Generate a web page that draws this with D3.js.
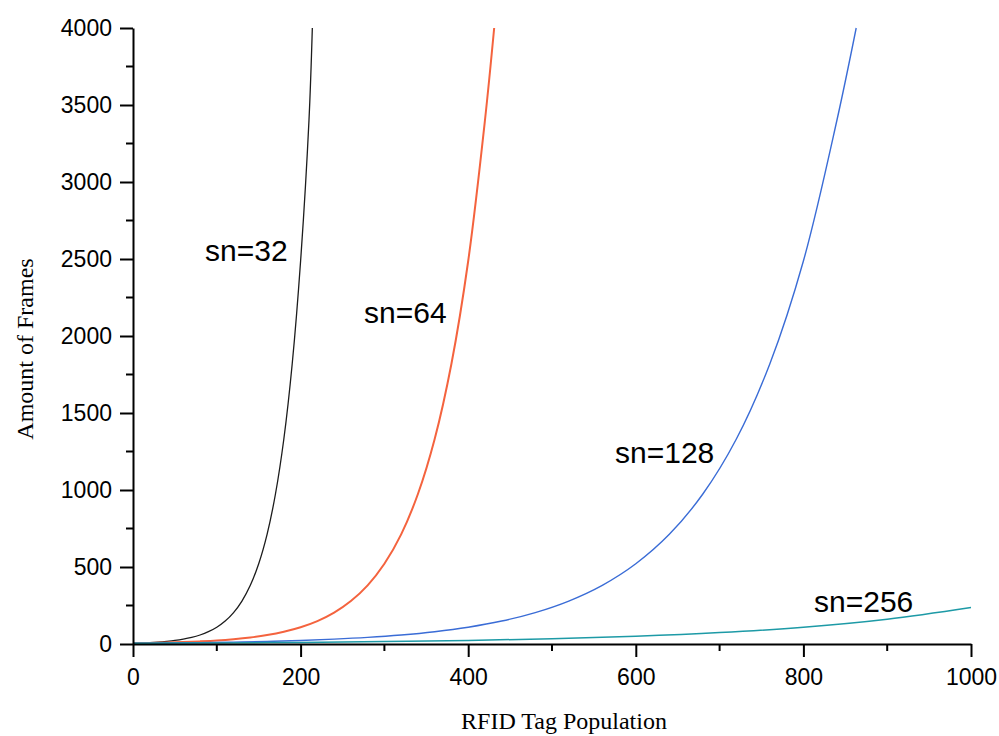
<!DOCTYPE html>
<html>
<head>
<meta charset="utf-8">
<script src="https://cdn.jsdelivr.net/npm/d3@7/dist/d3.min.js"></script>
<style>
  html, body { margin: 0; padding: 0; background: #fff; }
  svg { display: block; }
</style>
</head>
<body>
<script>
// ---- data ----
const sn32X  = [0, 10, 20, 30, 40, 50, 60, 70, 80, 90, 100, 110, 120, 130, 140, 150, 160, 170, 180, 190, 200, 210, 214];
const sn32Y  = [5, 6.6, 9, 12.3, 17, 22.9, 31.4, 42.8, 58.5, 79.9, 109, 149, 204, 279, 381, 521, 712, 974, 1331, 1820, 2487, 3401, 4000];
const sn64X  = [0, 20, 40, 60, 80, 100, 120, 140, 160, 180, 200, 220, 240, 260, 280, 300, 320, 340, 360, 380, 400, 420, 431];
const sn64Y  = [5, 6.6, 9, 12.3, 17, 22.9, 31.4, 42.8, 58.5, 79.9, 109, 149, 204, 279, 381, 521, 712, 974, 1331, 1820, 2487, 3401, 4000];
const sn128X = [0, 40, 80, 120, 160, 200, 240, 280, 320, 360, 400, 440, 480, 520, 560, 600, 640, 680, 720, 760, 800, 840, 863];
const sn128Y = [5, 6.6, 9, 12.3, 17, 22.9, 31.4, 42.8, 58.5, 79.9, 109, 149, 204, 279, 381, 521, 712, 974, 1331, 1820, 2487, 3401, 4000];
const sn256X = [0, 100, 200, 300, 400, 500, 600, 700, 800, 900, 1000];
const sn256Y = [5, 7, 10.5, 15.5, 23, 34, 50, 74, 109, 161, 237];
const seriesNames = ["sn=32", "sn=64", "sn=128", "sn=256"];
const xTicks = [0, 200, 400, 600, 800, 1000];
const yTicks = [0, 500, 1000, 1500, 2000, 2500, 3000, 3500, 4000];
const xTitle = "RFID Tag Population";
const yTitle = "Amount of Frames";

const W = 999, H = 736;
const svg = d3.select("body").append("svg").attr("width", W).attr("height", H);

const x = d3.scaleLinear().domain([0, 1000]).range([133, 971]);
const y = d3.scaleLinear().domain([0, 4000]).range([644, 28]);

const series = [
  {name: seriesNames[0], xs: sn32X,  ys: sn32Y,  color: "#1c1c1c", w: 1.3, lx: 205, ly: 261},
  {name: seriesNames[1], xs: sn64X,  ys: sn64Y,  color: "#f4633e", w: 2,   lx: 364, ly: 323},
  {name: seriesNames[2], xs: sn128X, ys: sn128Y, color: "#3a6cd6", w: 1.4, lx: 615, ly: 463},
  {name: seriesNames[3], xs: sn256X, ys: sn256Y, color: "#1d9aa6", w: 1.5, lx: 814, ly: 612}
];

const line = d3.line()
  .x(d => x(d[0])).y(d => y(d[1]))
  .curve(d3.curveCatmullRom.alpha(0.5));

series.forEach(s => {
  const pts = s.xs.map((v, i) => [v, s.ys[i]]);
  svg.append("path")
    .attr("d", line(pts))
    .attr("fill", "none")
    .attr("stroke", s.color)
    .attr("stroke-width", s.w);
});

// axes
const fmt = d3.format("d");
const yAxis = d3.axisLeft(y).tickValues(yTicks).tickFormat(fmt).tickSize(13).tickPadding(8).tickSizeOuter(0);
const xAxis = d3.axisBottom(x).tickValues(xTicks).tickFormat(fmt).tickSize(13).tickPadding(8).tickSizeOuter(0);

const gy = svg.append("g").attr("transform", "translate(133,0)").call(yAxis);
const gx = svg.append("g").attr("transform", "translate(0,644)").call(xAxis);

// minor ticks
const yMinor = d3.range(250, 4000, 500);
const xMinor = d3.range(100, 1000, 200);
svg.append("g").selectAll("line").data(yMinor).join("line")
  .attr("x1", 126).attr("x2", 133).attr("y1", d => y(d)).attr("y2", d => y(d))
  .attr("stroke", "#000").attr("stroke-width", 2);
svg.append("g").selectAll("line").data(xMinor).join("line")
  .attr("y1", 644).attr("y2", 651).attr("x1", d => x(d)).attr("x2", d => x(d))
  .attr("stroke", "#000").attr("stroke-width", 2);

[gx, gy].forEach(g => {
  g.select(".domain").attr("stroke", "#000").attr("stroke-width", 2);
  g.selectAll(".tick line").attr("stroke", "#000").attr("stroke-width", 2);
  g.selectAll(".tick text")
    .attr("fill", "#000")
    .style("font-family", "'Liberation Sans', Arial, sans-serif")
    .style("font-size", "23px");
});
gx.selectAll(".tick text").attr("dy", "0.85em");

// series labels
series.forEach(s => {
  svg.append("text")
    .attr("x", s.lx).attr("y", s.ly)
    .attr("fill", "#000")
    .style("font-family", "'Liberation Sans', Arial, sans-serif")
    .style("font-size", "30px")
    .text(s.name);
});

// axis titles
svg.append("text")
  .attr("x", 564).attr("y", 729)
  .attr("text-anchor", "middle")
  .attr("fill", "#000")
  .style("font-family", "'Liberation Serif', 'Times New Roman', serif")
  .style("font-size", "24px")
  .text(xTitle);

svg.append("text")
  .attr("transform", "translate(33,349) rotate(-90)")
  .attr("text-anchor", "middle")
  .attr("fill", "#000")
  .style("font-family", "'Liberation Serif', 'Times New Roman', serif")
  .style("font-size", "24px")
  .text(yTitle);
</script>
</body>
</html>
